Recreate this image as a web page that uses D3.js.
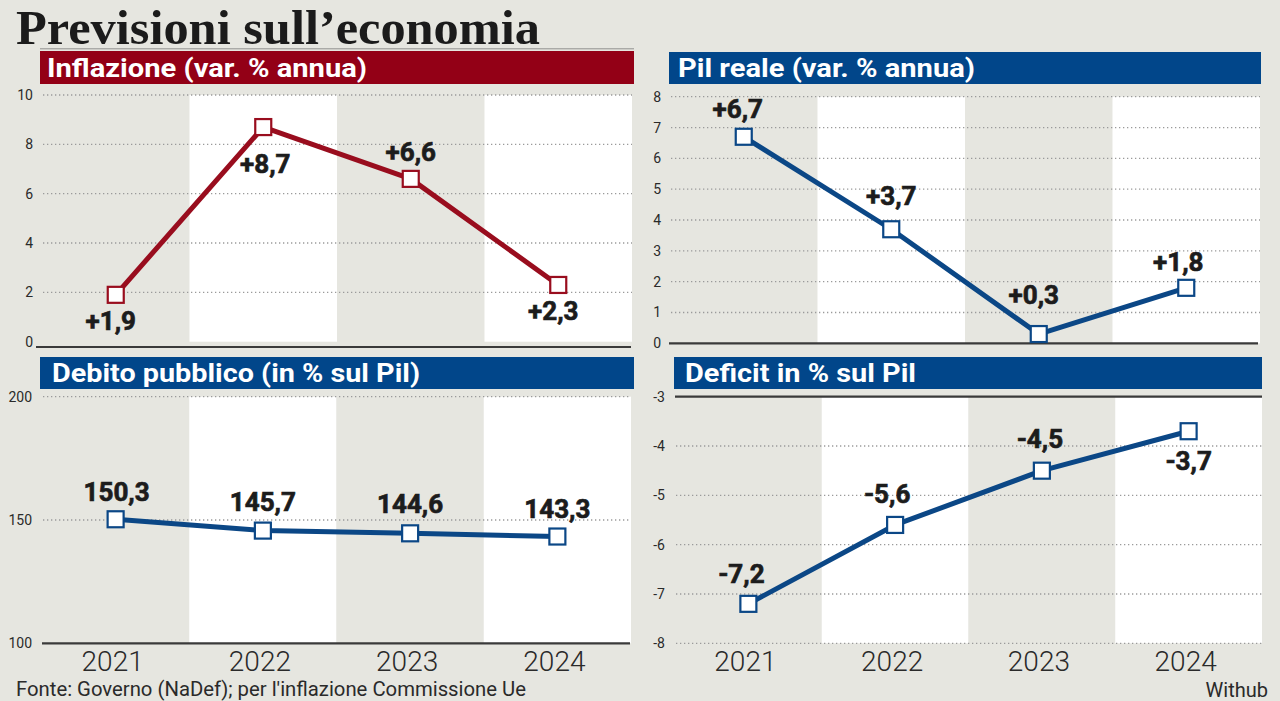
<!DOCTYPE html>
<html><head><meta charset="utf-8">
<script src="https://cdn.jsdelivr.net/npm/d3@7"></script>
<style>
html,body{margin:0;padding:0;background:#e6e6e0;}
svg{display:block;}
</style></head>
<body><svg id="c" width="1280" height="701"></svg>
<script>
// ---- data ----
const years = ["2021", "2022", "2023", "2024"];
const inflazione = [1.9, 8.7, 6.6, 2.3];
const pilReale = [6.7, 3.7, 0.3, 1.8];
const debito = [150.3, 145.7, 144.6, 143.3];
const deficit = [-7.2, -5.6, -4.5, -3.7];
const inflTicks = [0, 2, 4, 6, 8, 10];
const pilTicks = [0, 1, 2, 3, 4, 5, 6, 7, 8];
const debitoTicks = [100, 150, 200];
const deficitTicks = [-3, -4, -5, -6, -7, -8];
const title = "Previsioni sull\u2019economia";
const source = "Fonte: Governo (NaDef); per l'inflazione Commissione Ue";
const credit = "Withub";

// ---- layout / style ----
const BG = "#e6e6e0", RED = "#930016", RED_LINE = "#990d1e", BLUE = "#01468a", BLUE_LINE = "#0b4786";
const SANS = "Roboto, 'Liberation Sans', Arial, sans-serif";
const svg = d3.select("#c");
svg.append("rect").attr("width", 1280).attr("height", 701).attr("fill", BG);

const panels = [
  { name: "Inflazione (var. % annua)", values: inflazione, ticks: inflTicks, domain: [0, 10], plus: true,
    head: [40, 51, 594, 33], nameX: 47, nameW: 320, color: RED, line: RED_LINE,
    xr: [42, 632], yr: [341.7, 95], axisAt: "bottom", axisY: 347, axisX: [36, 631], tickRight: 33,
    lab: [[-5, 35], [2, 46], [0, -18], [-5, 35]], xLabels: false },
  { name: "Pil reale (var. % annua)", values: pilReale, ticks: pilTicks, domain: [0, 8], plus: true,
    head: [669, 52, 592, 32], nameX: 678, nameW: 297, color: BLUE, line: BLUE_LINE,
    xr: [670, 1260], yr: [343.3, 96.7], axisAt: "bottom", axisY: 343.3, axisX: [669, 1258], tickRight: 661,
    lab: [[-6, -19], [0, -24], [-5, -30], [-8, -17]], xLabels: false },
  { name: "Debito pubblico (in % sul Pil)", values: debito, ticks: debitoTicks, domain: [100, 200], plus: false,
    head: [40, 357, 594, 32], nameX: 52, nameW: 368, color: BLUE, line: BLUE_LINE,
    xr: [42, 631], yr: [643.3, 396.7], axisAt: "bottom", axisY: 643.3, axisX: [42, 630], tickRight: 32,
    lab: [[1, -18], [0, -20], [0, -20], [0, -19]], xLabels: true },
  { name: "Deficit in % sul Pil", values: deficit, ticks: deficitTicks, domain: [-8, -3], plus: false,
    head: [674, 357, 588, 32], nameX: 685, nameW: 231, color: BLUE, line: BLUE_LINE,
    xr: [675, 1262], yr: [643.3, 396.7], axisAt: "top", axisY: 396.7, axisX: [675, 1262], tickRight: 665,
    lab: [[-7, -21], [-8, -22], [-2, -23], [0, 39]], xLabels: true }
];

const fmt = (v, plus) => (plus && v > 0 ? "+" : "") + v.toFixed(1).replace(".", ",");

// title
svg.append("text").attr("x", 16).attr("y", 44)
  .attr("font-family", "'Liberation Serif', 'DejaVu Serif', serif").attr("font-weight", "bold")
  .attr("font-size", 48).attr("fill", "#1b1b1b")
  .attr("textLength", 524).attr("lengthAdjust", "spacingAndGlyphs").text(title);
svg.append("line").attr("x1", 40).attr("x2", 634).attr("y1", 48.8).attr("y2", 48.8)
  .attr("stroke", "#7a7a7a").attr("stroke-width", 0.8);

panels.forEach(p => {
  const x = d3.scaleBand().domain(years).range(p.xr).padding(0);
  const y = d3.scaleLinear().domain(p.domain).range(p.yr);
  const g = svg.append("g");
  const top = y(p.domain[1]), bot = y(p.domain[0]);

  // bands
  g.selectAll("rect.band").data(years).join("rect")
    .attr("x", d => x(d)).attr("width", x.bandwidth())
    .attr("y", top).attr("height", bot - top)
    .attr("fill", (d, i) => i % 2 ? "#ffffff" : BG);

  // header
  g.append("rect").attr("x", p.head[0]).attr("y", p.head[1]).attr("width", p.head[2]).attr("height", p.head[3])
    .attr("fill", p.color);
  g.append("text").attr("x", p.nameX).attr("y", p.head[1] + p.head[3] - 7)
    .attr("font-family", SANS).attr("font-weight", "bold").attr("font-size", 26)
    .attr("fill", "#fff").attr("textLength", p.nameW).attr("lengthAdjust", "spacingAndGlyphs").text(p.name);

  // grid lines (dotted) excluding the axis value
  const axisVal = p.axisAt === "bottom" ? p.domain[0] : p.domain[1];
  g.selectAll("line.grid").data(p.ticks.filter(t => t !== axisVal)).join("line")
    .attr("x1", p.xr[0] + 1).attr("x2", p.xr[1])
    .attr("y1", d => y(d)).attr("y2", d => y(d))
    .attr("stroke", "#9a9a9a").attr("stroke-width", 1.3).attr("stroke-dasharray", "1.3,2.7");

  // axis line
  g.append("line").attr("x1", p.axisX[0]).attr("x2", p.axisX[1]).attr("y1", p.axisY).attr("y2", p.axisY)
    .attr("stroke", "#3a3a3a").attr("stroke-width", 2.2);

  // y tick labels
  g.selectAll("text.tick").data(p.ticks).join("text")
    .attr("x", p.tickRight).attr("y", d => y(d) + 5)
    .attr("text-anchor", "end").attr("font-family", SANS).attr("font-size", 14)
    .attr("fill", "#2a2a2a").text(d => d);

  // line
  const cx = d => x(d) + x.bandwidth() / 2;
  const pts = years.map((yr, i) => [cx(yr), y(p.values[i])]);
  g.append("path").attr("d", d3.line()(pts)).attr("fill", "none")
    .attr("stroke", p.line).attr("stroke-width", 5).attr("stroke-linejoin", "round");

  // markers
  g.selectAll("rect.mk").data(pts).join("rect")
    .attr("x", d => d[0] - 8).attr("y", d => d[1] - 8).attr("width", 16).attr("height", 16)
    .attr("fill", "#fff").attr("stroke", p.line).attr("stroke-width", 2.2);

  // value labels
  g.selectAll("text.val").data(pts).join("text")
    .attr("x", (d, i) => d[0] + p.lab[i][0]).attr("y", (d, i) => d[1] + p.lab[i][1])
    .attr("text-anchor", "middle").attr("font-family", SANS).attr("font-weight", "bold")
    .attr("font-size", 26).attr("fill", "#1c1c1c")
    .attr("stroke", "#1c1c1c").attr("stroke-width", 0.7)
    .text((d, i) => fmt(p.values[i], p.plus));

  // x labels
  if (p.xLabels) {
    g.selectAll("text.xl").data(years).join("text")
      .attr("x", d => cx(d) - 3).attr("y", 670.5)
      .attr("text-anchor", "middle").attr("font-family", SANS).attr("font-weight", 300)
      .attr("font-size", 28).attr("fill", "#2a2a2a").text(d => d);
  }
});

// footer
svg.append("text").attr("x", 16).attr("y", 696)
  .attr("font-family", SANS).attr("font-size", 20).attr("fill", "#2a2a2a")
  .attr("textLength", 510).attr("lengthAdjust", "spacingAndGlyphs").text(source);
svg.append("text").attr("x", 1268).attr("y", 697).attr("text-anchor", "end")
  .attr("font-family", SANS).attr("font-size", 20).attr("fill", "#2a2a2a").text(credit);
</script>
</body></html>
